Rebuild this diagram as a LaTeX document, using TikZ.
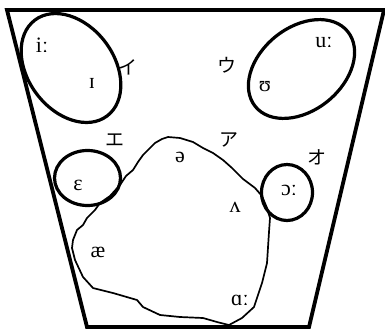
\documentclass[tikz,border=0pt]{standalone}
\usepackage{fontspec}
\setmainfont{Liberation Serif}
\newfontfamily\jpfont{Noto Sans CJK JP}
\tikzset{
  frame/.style={line width=3.8pt, line join=miter},
  ring/.style={line width=3.2pt},
  blob/.style={line width=1.7pt, line join=round},
  ipa/.style={font=\fontsize{22}{22}\selectfont, inner sep=0pt},
  kana/.style={font=\jpfont\fontsize{19}{19}\selectfont, inner sep=0pt}
}
\begin{document}
\begin{tikzpicture}[x=1pt,y=-1pt]
\useasboundingbox (0,0) rectangle (385,329);
\fill[white] (0,0) rectangle (385,329);
% frame
\coordinate (tl) at (7,10);
\coordinate (tr) at (384,10);
\coordinate (br) at (309,327);
\coordinate (bl) at (87,327);
\draw[frame] (tl) -- (tr) -- (br) -- (bl) -- cycle;
% ellipses
\coordinate (e1) at (71,68);
\coordinate (e2) at (301.5,69);
\coordinate (e3) at (87.5,178);
\coordinate (e4) at (287,192.5);
\draw[ring, rotate around={-53:(e1)}] (e1) ellipse [x radius=60, y radius=43];
\draw[ring, rotate around={39:(e2)}] (e2) ellipse [x radius=59.5, y radius=41.5];
\draw[ring] (e3) ellipse [x radius=33, y radius=27.5];
\draw[ring] (e4) ellipse [x radius=25.5, y radius=28];
% blob
\draw[blob] (100,203) -- (110,196) -- (120,185) -- (126,176) -- (133,170) -- (138,162) -- (143,155) -- (150,148) -- (155,143) -- (162,139) -- (168,137) -- (180,138) -- (193,142) -- (203,148) -- (213,153) -- (223,160) -- (232,168) -- (243,179) -- (255,188) -- (262,196) -- (267,208) -- (270,218) -- (269,232) -- (267,263) -- (262,283) -- (254,307) -- (242,318) -- (229,325) -- (217,322) -- (203,318) -- (180,317) -- (160,315) -- (143,307) -- (137,300) -- (113,293) -- (93,288) -- (83,277) -- (75,260) -- (72,248) -- (73,240) -- (77,230) -- (83,225) -- (87,218) -- (95,210) -- cycle;
% labels
\node[ipa] (iL) at (42,45) {iː};
\node[ipa] (iS) at (92,83) {ɪ};
\node[kana] (ki) at (128,67) {イ};
\node[kana] (ke) at (115,140) {エ};
\node[ipa] (schwa) at (180,157) {ə};
\node[kana] (ku) at (227,65) {ウ};
\node[ipa] (uL) at (324,43) {uː};
\node[ipa] (uS) at (265,87) {ʊ};
\node[kana] (ka) at (229,140) {ア};
\node[kana] (ko) at (317,157) {オ};
\node[ipa] (oL) at (289,190) {ɔː};
\node[ipa] (wedge) at (235,207) {ʌ};
\node[ipa] (eps) at (78,185) {ɛ};
\node[ipa] (ae) at (98,252) {æ};
\node[ipa] (aL) at (240,300) {ɑː};
\end{tikzpicture}
\end{document}
